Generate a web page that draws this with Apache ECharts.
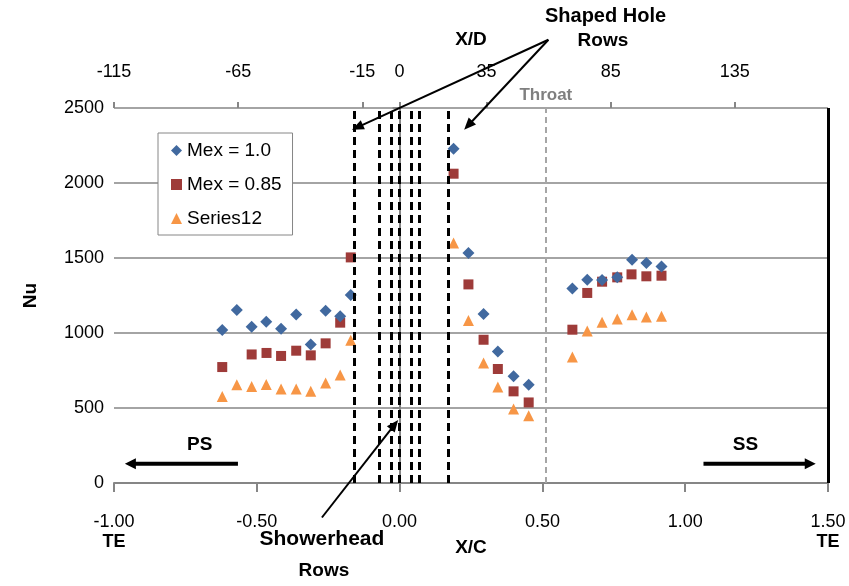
<!DOCTYPE html>
<html>
<head>
<meta charset="utf-8">
<script src="https://cdn.jsdelivr.net/npm/echarts@6/dist/echarts.min.js"></script>
<style>
  html, body { margin: 0; padding: 0; background: #fff; }
  #main { width: 849px; height: 586px; }
</style>
</head>
<body>
<div id="main"></div>
<script>
// values
var xcMex10 = [-0.621, -0.570, -0.518, -0.467, -0.415, -0.362, -0.311, -0.259, -0.208, -0.171,
               0.189, 0.241, 0.294, 0.344, 0.399, 0.452,
               0.605, 0.657, 0.709, 0.762, 0.814, 0.864, 0.917];
var nuMex10 = [1020, 1153, 1042, 1075, 1029, 1124, 924, 1149, 1111, 1253,
               2229, 1533, 1127, 877, 711, 655,
               1297, 1355, 1353, 1371, 1489, 1467, 1444];

var xcMex085 = [-0.621, -0.518, -0.466, -0.415, -0.362, -0.311, -0.259, -0.208, -0.171,
                0.189, 0.241, 0.294, 0.344, 0.399, 0.452,
                0.605, 0.657, 0.709, 0.762, 0.812, 0.864, 0.917];
var nuMex085 = [773, 857, 867, 847, 882, 851, 931, 1069, 1504,
                2062, 1324, 955, 760, 611, 537,
                1022, 1267, 1342, 1371, 1391, 1378, 1382];

var xcSeries12 = xcMex10;
var nuSeries12 = [577, 655, 644, 657, 627, 627, 611, 667, 720, 951,
                  1600, 1084, 800, 640, 493, 449,
                  840, 1013, 1071, 1093, 1122, 1107, 1111];

var holeRows = [-0.159, -0.065, -0.031, 0.004, 0.037, 0.072, 0.174];
var throatAt = 0.511;
var teEdge = 1.5;
var topTicks = [-115, -65, -15, 0, 35, 85, 135];

// annotations, placed in X/C - Nu space
var noteText = ['Shaped Hole', 'Rows', 'Showerhead', 'Rows', 'PS', 'SS', 'Throat'];
var noteAt = [[0.721, 3108], [0.712, 2949], [-0.272, -378], [-0.265, -585], [-0.700, 255], [1.211, 255], [0.512, 2582]];
var noteSize = [20, 19, 21, 19, 19, 19, 17];
var noteColor = ['#000', '#000', '#000', '#000', '#000', '#000', '#7f7f7f'];

var arrowFrom = [[0.521, 2955], [0.521, 2955], [-0.272, -230], [-0.566, 129], [1.064, 129]];
var arrowTo = [[-0.167, 2355], [0.226, 2355], [-0.005, 420], [-0.962, 129], [1.457, 129]];
var arrowWidth = [2, 2, 2, 4, 4];

var font = 'Liberation Sans, Arial, sans-serif';
var gray = '#868686';

function pairs(xs, ys) {
    return xs.map(function (x, i) { return [x, ys[i]]; });
}

var dom = document.getElementById('main');
var myChart = echarts.init(dom, null, { renderer: 'canvas' });

var guideLines = holeRows.map(function (v) {
    return { xAxis: v };
});
guideLines.push({ xAxis: throatAt, lineStyle: { color: '#a6a6a6', width: 2, type: [6, 4] } });
guideLines.push({ xAxis: teEdge, lineStyle: { color: '#000', width: 3, type: 'solid' } });

var option = {
    animation: false,
    textStyle: { fontFamily: font },
    grid: { left: 114, right: 21, top: 108, bottom: 103 },
    legend: {
        orient: 'vertical',
        left: 158,
        top: 133,
        data: ['Mex = 1.0', 'Mex = 0.85', 'Series12'],
        backgroundColor: '#fff',
        borderColor: gray,
        borderWidth: 1,
        borderRadius: 0,
        padding: [8, 11, 7, 13],
        itemGap: 15,
        itemWidth: 11,
        itemHeight: 11,
        textStyle: { fontSize: 19, color: '#000', fontFamily: font }
    },
    xAxis: [
        {
            type: 'value',
            position: 'bottom',
            min: -1,
            max: 1.5,
            interval: 0.5,
            name: 'X/C',
            nameLocation: 'middle',
            nameGap: 55,
            nameMoveOverlap: false,
            nameTextStyle: { fontSize: 19, fontWeight: 'bold', color: '#000' },
            axisLine: { onZero: false, lineStyle: { color: gray, width: 2 } },
            axisTick: { length: 9, lineStyle: { color: gray, width: 2 } },
            splitLine: { show: false },
            axisLabel: {
                margin: 29,
                fontSize: 18,
                color: '#000',
                lineHeight: 20,
                formatter: function (v) {
                    var s = v.toFixed(2);
                    if (v === -1 || v === 1.5) s += '\n{te|TE}';
                    return s;
                },
                rich: { te: { fontSize: 18, fontWeight: 'bold', lineHeight: 20, color: '#000' } }
            }
        },
        {
            type: 'value',
            position: 'top',
            min: -115,
            max: 172.5,
            name: 'X/D',
            nameLocation: 'middle',
            nameGap: 59,
            nameMoveOverlap: false,
            nameTextStyle: { fontSize: 19, fontWeight: 'bold', color: '#000' },
            axisLine: { show: false, onZero: false },
            axisTick: { show: true, length: 6, customValues: topTicks, lineStyle: { color: gray, width: 2 } },
            splitLine: { show: false },
            axisLabel: { margin: 27, fontSize: 18, color: '#000', customValues: topTicks }
        }
    ],
    yAxis: {
        type: 'value',
        min: 0,
        max: 2500,
        interval: 500,
        name: 'Nu',
        nameLocation: 'middle',
        nameRotate: 90,
        nameGap: 74,
        nameMoveOverlap: false,
        nameTextStyle: { fontSize: 19, fontWeight: 'bold', color: '#000' },
        axisLine: { show: true, lineStyle: { color: gray, width: 2 } },
        axisTick: { show: true, length: 7, lineStyle: { color: gray, width: 2 } },
        splitLine: { lineStyle: { color: gray, width: 1.5 } },
        axisLabel: {
            margin: 10, fontSize: 18, color: '#000',
            formatter: function (v) { return String(v); }
        }
    },
    series: [
        {
            name: 'guides',
            type: 'line',
            data: [],
            markLine: {
                silent: true,
                symbol: ['none', 'none'],
                label: { show: false },
                lineStyle: { color: '#000', width: 3, type: [8, 5] },
                data: guideLines
            }
        },
        {
            name: 'Mex = 1.0',
            type: 'scatter',
            symbol: 'diamond',
            symbolSize: [12, 12],
            itemStyle: { color: '#41699F', opacity: 1 },
            data: pairs(xcMex10, nuMex10),
            z: 4
        },
        {
            name: 'Mex = 0.85',
            type: 'scatter',
            symbol: 'rect',
            symbolSize: 10,
            itemStyle: { color: '#9E3B39', opacity: 1 },
            data: pairs(xcMex085, nuMex085),
            z: 3
        },
        {
            name: 'Series12',
            type: 'scatter',
            symbol: 'triangle',
            symbolSize: 11,
            itemStyle: { color: '#F79646', opacity: 1 },
            data: pairs(xcSeries12, nuSeries12),
            z: 2
        }
    ]
};

myChart.setOption(option);

// annotations drawn through the chart's own scale
function px(p) {
    return myChart.convertToPixel({ xAxisIndex: 0, yAxisIndex: 0 }, p);
}

function arrowShapes(a, b, w) {
    var p0 = px(a), p1 = px(b);
    var dx = p1[0] - p0[0], dy = p1[1] - p0[1];
    var d = Math.sqrt(dx * dx + dy * dy);
    var ux = dx / d, uy = dy / d;
    var len = w > 3 ? 11 : 12, half = w > 3 ? 5.5 : 5;
    var bx = p1[0] - ux * len, by = p1[1] - uy * len;
    return [
        {
            type: 'line', silent: true, z: 100,
            shape: { x1: p0[0], y1: p0[1], x2: bx + ux * 2, y2: by + uy * 2 },
            style: { stroke: '#000', lineWidth: w }
        },
        {
            type: 'polygon', silent: true, z: 100,
            shape: { points: [[p1[0], p1[1]], [bx - uy * half, by + ux * half], [bx + uy * half, by - ux * half]] },
            style: { fill: '#000' }
        }
    ];
}

var graphics = [];
noteText.forEach(function (t, i) {
    var p = px(noteAt[i]);
    graphics.push({
        type: 'text', silent: true, z: 100,
        x: p[0], y: p[1],
        style: {
            text: t,
            fontSize: noteSize[i],
            fontWeight: 'bold',
            fontFamily: font,
            fill: noteColor[i],
            align: 'center',
            verticalAlign: 'middle'
        }
    });
});
arrowFrom.forEach(function (a, i) {
    graphics = graphics.concat(arrowShapes(a, arrowTo[i], arrowWidth[i]));
});

myChart.setOption({ graphic: graphics });

window.addEventListener('resize', myChart.resize);
</script>
</body>
</html>
